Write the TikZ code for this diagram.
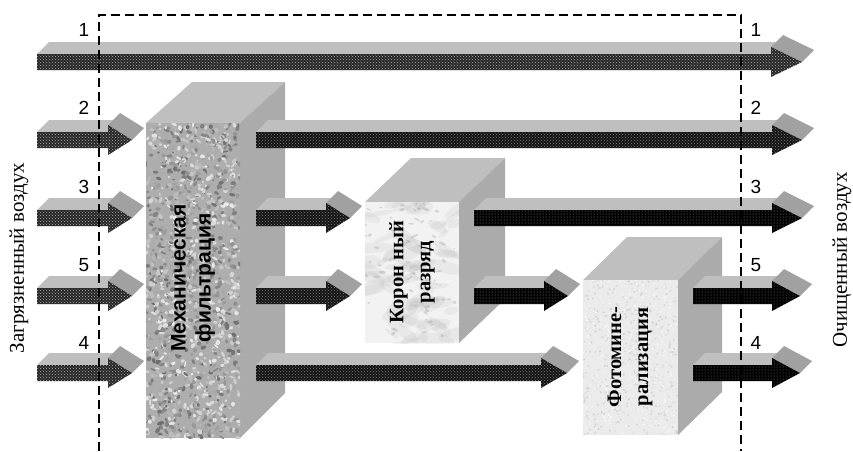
\documentclass[tikz,border=0pt]{standalone}
\usepackage{fontspec}
\setmainfont{Liberation Serif}
\setsansfont{Liberation Sans}
\usetikzlibrary{patterns}
\tikzset{
  arrtop/.style={fill=black!25},
  arrhead/.style={fill=black!37},
  inface/.style={fill=black!85, postaction={pattern=crosshatch dots, pattern color=white!70!black}},
  mechface/.style={fill=black!92, postaction={pattern=crosshatch dots, pattern color=black!50}},
  corface/.style={fill=black, postaction={pattern=dots, pattern color=white!60!black}},
  photface/.style={fill=black, postaction={pattern=dots, pattern color=black!50}},
  boxtop/.style={fill=black!25},
  boxside/.style={fill=black!33},
  numlbl/.style={font=\sffamily\fontsize{19}{19}\selectfont, inner sep=0pt},
  sidelbl/.style={font=\rmfamily\fontsize{21}{21}\selectfont, rotate=90, inner sep=0pt},
  sansbold/.style={font=\sffamily\bfseries\fontsize{21}{25}\selectfont, rotate=90, align=center, inner sep=0pt},
  serifbold/.style={font=\rmfamily\bfseries\fontsize{20.5}{27}\selectfont, rotate=90, align=center, inner sep=0pt},
  frame/.style={line width=2pt, dash pattern=on 9pt off 5pt}
}
% #1 x start, #2 x tip, #3 y centre, #4 head length, #5 face style
\newcommand\tdarrow[5]{%
  \pgfmathsetmacro\xb{#2-#4}%
  \fill[arrtop] (#1,#3-8) -- (\xb,#3-8) -- (\xb+12,#3-20) -- (#1+12,#3-20) -- cycle;
  \fill[arrhead] (\xb,#3-15) -- (#2,#3) -- (#2+12,#3-12) -- (\xb+12,#3-27) -- cycle;
  \fill[#5] (#1,#3-8) -- (\xb,#3-8) -- (\xb,#3-15) -- (#2,#3) -- (\xb,#3+15) -- (\xb,#3+8) -- (#1,#3+8) -- cycle;
}
\begin{document}
\begin{tikzpicture}[x=1pt,y=-1pt]
\useasboundingbox (0,0) rectangle (853,451);
\fill[white] (0,0) rectangle (853,451);

% top through-flow arrow 1
\tdarrow{37}{802}{62}{31}{inface}
% input arrows
\foreach \yy in {140,218,296,373} {\tdarrow{37}{132}{\yy}{24}{inface}}

% mechanical filtration box
\fill[boxtop] (146,123) -- (192,82) -- (285,82) -- (240,123) -- cycle;
\fill[boxside] (240,123) -- (285,82) -- (285,393) -- (240,438) -- cycle;
\fill[black!32] (146,123) rectangle (240,438);
\begin{scope}
  \clip (146,123) rectangle (240,438);
  \pgfmathsetseed{7}
  \foreach \i in {1,...,1500} {
    \pgfmathsetmacro\rx{146+94*rnd}
    \pgfmathsetmacro\ry{123+315*rnd}
    \pgfmathsetmacro\rc{int(8+50*rnd)}
    \pgfmathsetmacro\ra{1.2+2.2*rnd}
    \pgfmathsetmacro\rb{0.8+1.5*rnd}
    \pgfmathsetmacro\rt{180*rnd}
    \fill[black!\rc, rotate around={\rt:(\rx,\ry)}] (\rx,\ry) ellipse ({\ra} and {\rb});
  }
\end{scope}
\node[sansbold] (mech) at (193,278) {Механическая\\фильтрация};

% outputs of mechanical filtration
\tdarrow{256}{802}{140}{30}{mechface}
\tdarrow{256}{350}{218}{24}{mechface}
\tdarrow{256}{350}{296}{24}{mechface}
\tdarrow{256}{567}{373}{26}{mechface}

% corona discharge box
\fill[boxtop] (365,202) -- (411,158) -- (505,158) -- (459,202) -- cycle;
\fill[boxside] (459,202) -- (505,158) -- (505,299) -- (459,343) -- cycle;
\fill[black!5] (365,202) rectangle (459,343);
\begin{scope}
  \clip (365,202) rectangle (459,343);
  \pgfmathsetseed{3}
  \foreach \i in {1,...,70} {
    \pgfmathsetmacro\rx{365+94*rnd}
    \pgfmathsetmacro\ry{202+141*rnd}
    \pgfmathsetmacro\ra{6+14*rnd}
    \pgfmathsetmacro\rb{2+5*rnd}
    \pgfmathsetmacro\rt{-40+80*rnd}
    \fill[black!40, opacity=0.10, rotate around={\rt:(\rx,\ry)}] (\rx,\ry) ellipse ({\ra} and {\rb});
  }
  \foreach \i in {1,...,60} {
    \pgfmathsetmacro\rx{365+94*rnd}
    \pgfmathsetmacro\ry{202+141*rnd}
    \pgfmathsetmacro\ra{1+3*rnd}
    \pgfmathsetmacro\rb{0.6+1*rnd}
    \pgfmathsetmacro\rt{-40+80*rnd}
    \fill[black!50, opacity=0.25, rotate around={\rt:(\rx,\ry)}] (\rx,\ry) ellipse ({\ra} and {\rb});
  }
\end{scope}
\node[serifbold] (cor) at (412,272) {Корон ный\\разряд};

% outputs of corona discharge
\tdarrow{474}{802}{218}{30}{corface}
\tdarrow{474}{568}{296}{24}{corface}

% photomineralisation box
\fill[boxtop] (583,280) -- (627,237) -- (722,237) -- (678,280) -- cycle;
\fill[boxside] (678,280) -- (722,237) -- (722,392) -- (678,435) -- cycle;
\fill[black!8] (583,280) rectangle (678,435);
\begin{scope}
  \clip (583,280) rectangle (678,435);
  \pgfmathsetseed{11}
  \foreach \i in {1,...,900} {
    \pgfmathsetmacro\rx{583+95*rnd}
    \pgfmathsetmacro\ry{280+155*rnd}
    \pgfmathsetmacro\rc{int(2+18*rnd)}
    \fill[black!\rc] (\rx,\ry) circle (1.1);
  }
\end{scope}
\node[serifbold] (phot) at (630,357) {Фотомине-\\рализация};

% outputs of photomineralisation
\tdarrow{693}{800}{296}{28}{photface}
\tdarrow{693}{800}{373}{28}{photface}

% dashed frame
\coordinate (fl) at (99,451);
\coordinate (ftl) at (99,15);
\coordinate (ftr) at (741,15);
\coordinate (fr) at (741,451);
\draw[frame] (fl) -- (ftl) -- (ftr) -- (fr);

% stream numbers
\node[numlbl] (l1) at (84,30) {1};
\node[numlbl] (l2) at (84,108) {2};
\node[numlbl] (l3) at (84,187) {3};
\node[numlbl] (l5) at (84,265) {5};
\node[numlbl] (l4) at (84,343) {4};
\node[numlbl] (r1) at (756,30) {1};
\node[numlbl] (r2) at (756,108) {2};
\node[numlbl] (r3) at (756,187) {3};
\node[numlbl] (r5) at (756,265) {5};
\node[numlbl] (r4) at (756,343) {4};

% side captions
\node[sidelbl] (inair) at (19,258) {Загрязненный воздух};
\node[sidelbl] (outair) at (842,260) {Очищенный воздух};
\end{tikzpicture}
\end{document}
